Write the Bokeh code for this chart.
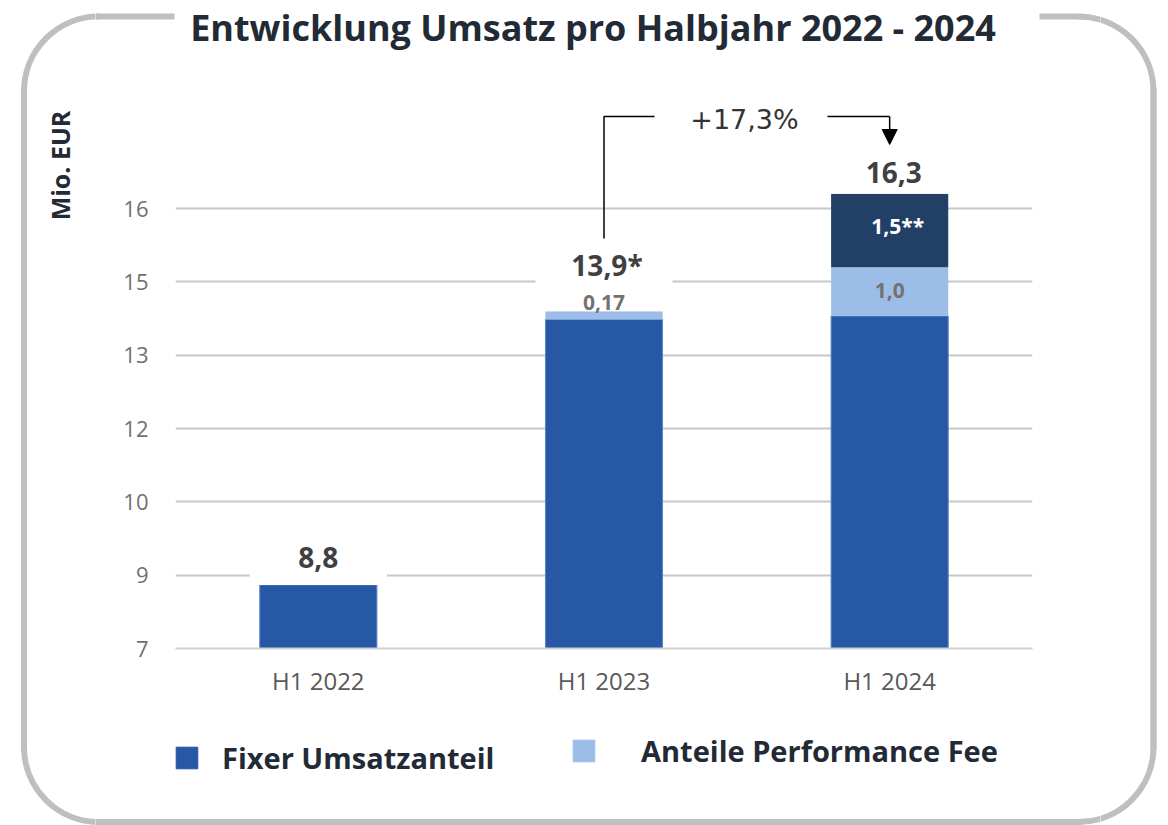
import math
from bokeh.plotting import figure
from bokeh.layouts import column, row
from bokeh.models import (ColumnDataSource, FactorRange, Range1d, FixedTicker,
                          Arrow, NormalHead, Legend, LegendItem)
from bokeh.core.properties import value
from bokeh.embed import file_html
from bokeh.resources import INLINE

# ---------------- data ----------------
categories = ["H1 2022", "H1 2023", "H1 2024"]
fixed_share = [8.3, 13.73, 13.8]
perf_fee = [0.0, 0.17, 1.0]
extra_fee = [0.0, 0.0, 1.5]
total_labels = ["8,8", "13,9*", "16,3"]
perf_labels = ["", "0,17", "1,0"]
extra_labels = ["", "", "1,5**"]
growth_label = "+17,3%"
y_ticks = [7, 8.5, 10, 11.5, 13, 14.5, 16]
y_tick_labels = ["7", "9", "10", "12", "13", "15", "16"]
title_text = "Entwicklung Umsatz pro Halbjahr 2022 - 2024"
y_title = "Mio. EUR"
legend_labels = ["Fixer Umsatzanteil", "Anteile Performance Fee"]

# ---------------- page geometry (page pixels) ----------------
PW, PH = 1168, 825
TOP_H, BOT_Y = 100, 700          # top strip 0..100, bottom strip 700..825
MAIN_X0, MAIN_X1 = 95, 1100      # main figure horizontal extent
FL, FR, FT, FB = 175, 1032, 100, 648   # plot frame (page px)
Y0 = 7.0
PX_PER_UNIT = 440 / 9.0
Y1 = Y0 + (FB - FT) / PX_PER_UNIT
NCAT = len(categories)

def X(px):   # page px -> categorical synthetic coordinate
    return (px - FL) / (FR - FL) * NCAT

def Y(py):   # page px -> value coordinate
    return Y0 + (FB - py) / PX_PER_UNIT

C_FIX = "#2758A5"
C_PERF = "#9DBDE9"
C_EXTRA = "#223F66"
C_TEXT = "#222A35"
C_VAL = "#404040"
C_BORDER = "#BFBFBF"

# ---------------- main chart ----------------
p = figure(width=MAIN_X1 - MAIN_X0, height=BOT_Y - TOP_H,
           x_range=FactorRange(*categories, range_padding=0),
           y_range=Range1d(Y0, Y1), output_backend="svg", toolbar_location=None,
           min_border_left=FL - MAIN_X0, min_border_right=MAIN_X1 - FR,
           min_border_top=FT - TOP_H, min_border_bottom=BOT_Y - FB,
           frame_align=False)
p.outline_line_color = None
p.border_fill_color = "white"

p.xgrid.grid_line_color = None
p.ygrid.ticker = FixedTicker(ticks=y_ticks)
p.ygrid.grid_line_color = "#C8C8C8"
p.ygrid.grid_line_width = 2
p.yaxis.ticker = FixedTicker(ticks=y_ticks)
p.yaxis.major_label_overrides = {t: l for t, l in zip(y_ticks, y_tick_labels)}
p.yaxis.axis_line_color = None
p.yaxis.major_tick_line_color = None
p.yaxis.minor_tick_line_color = None
p.yaxis.major_label_standoff = 21
p.yaxis.major_label_text_font = "Open Sans"
p.yaxis.major_label_text_font_size = "22px"
p.yaxis.major_label_text_color = "#707070"
p.xaxis.axis_line_color = "#D0D0D0"
p.xaxis.axis_line_width = 2
p.xaxis.major_tick_line_color = None
p.xaxis.minor_tick_line_color = None
p.xaxis.major_label_standoff = 9
p.xaxis.major_label_text_font = "Open Sans"
p.xaxis.major_label_text_font_size = "24px"
p.xaxis.major_label_text_color = "#595959"

bottom1 = [Y0] * NCAT
top1 = fixed_share
top2 = [a + b for a, b in zip(fixed_share, perf_fee)]
top3 = [a + b for a, b in zip(top2, extra_fee)]
src = ColumnDataSource(dict(cat=categories, b1=bottom1, t1=top1, t2=top2, t3=top3,
                            mask_top=[t + 1.1 for t in top3]))
BW = 0.41
p.vbar(x="cat", bottom="b1", top="t1", width=BW, source=src,
       fill_color=C_FIX, line_color="#5B86C6", line_width=1)
p.vbar(x="cat", bottom="t1", top="t2", width=BW, source=src,
       fill_color=C_PERF, line_color=None)
p.vbar(x="cat", bottom="t2", top="t3", width=BW, source=src,
       fill_color=C_EXTRA, line_color=None)
# white boxes behind the total labels (interrupt the gridlines)
p.vbar(x="cat", bottom="t3", top="mask_top", width=0.48, source=src,
       fill_color="white", line_color=None)

tsrc = ColumnDataSource(dict(cat=categories, y=top3, txt=total_labels,
                             yo=[-27, -46, -21], xo=[0, 3, 4]))
p.text(x="cat", y="y", text="txt", source=tsrc, y_offset="yo", x_offset="xo",
       text_align="center", text_baseline="alphabetic", text_font=value("Open Sans"),
       text_font_style="bold", text_font_size="28px", text_color=C_VAL)
psrc = ColumnDataSource(dict(cat=categories, y=top2, txt=perf_labels, yo=[0, -9, 23]))
p.text(x="cat", y="y", text="txt", source=psrc, y_offset="yo",
       text_align="center", text_baseline="alphabetic", text_font=value("Open Sans"),
       text_font_style="bold", text_font_size="21px", text_color="#767171")
esrc = ColumnDataSource(dict(cat=categories, y=top3, txt=extra_labels, yo=[0, 0, 32]))
p.text(x="cat", y="y", text="txt", source=esrc, y_offset="yo", x_offset=8,
       text_align="center", text_baseline="alphabetic", text_font=value("Open Sans"),
       text_font_style="bold", text_font_size="21px", text_color="white")

# growth bracket between H1 2023 and H1 2024
p.line(x=[1.5, 1.5, X(654)], y=[Y(238), Y(116), Y(116)], line_color="black", line_width=1.5)
p.line(x=[X(827), 2.5], y=[Y(116), Y(116)], line_color="black", line_width=1.5)
p.add_layout(Arrow(end=NormalHead(size=15, fill_color="black", line_color="black"),
                   x_start=2.5, y_start=Y(116), x_end=2.5, y_end=Y(144),
                   line_color="black", line_width=1.5))
p.text(x=[X(744)], y=[Y(119)], text=[growth_label], text_align="center",
       text_baseline="alphabetic", text_font=value("DejaVu Sans"),
       text_font_size="27px", text_color="#333333")

# ---------------- frame strips (rounded border, title, legend) ----------------
BL, BR, BT, BB, RAD = 23.5, 1153, 16, 821.5, 75
GAP0, GAP1 = 171, 1042     # gap in the top border behind the title
SEGMENTS = [((BL + RAD, BT), (GAP0, BT)), ((GAP1, BT), (BR - RAD, BT)),
            ((BL + RAD, BB), (BR - RAD, BB)),
            ((BL, BT + RAD), (BL, BB - RAD)), ((BR, BT + RAD), (BR, BB - RAD))]


def strip(x0, x1, y0, y1):
    f = figure(width=x1 - x0, height=y1 - y0, x_range=Range1d(x0, x1),
               y_range=Range1d(-y1, -y0), output_backend="svg", toolbar_location=None,
               x_axis_location=None, y_axis_location=None, min_border=0,
               min_border_left=0, min_border_right=0, min_border_top=0, min_border_bottom=0,
               frame_align=False)
    f.outline_line_color = None
    f.grid.visible = False
    f.border_fill_color = "white"
    # the part of the rounded border that lies in this strip
    half = 3
    ls, rs, bs, ts = [], [], [], []
    for (ax, ay), (bx, by) in SEGMENTS:
        xa, xb = max(min(ax, bx) - half, x0), min(max(ax, bx) + half, x1)
        ya, yb = max(min(ay, by) - half, y0), min(max(ay, by) + half, y1)
        if xa < xb and ya < yb:
            ls.append(xa); rs.append(xb); ts.append(-ya); bs.append(-yb)
    if ls:
        f.quad(left=ls, right=rs, bottom=bs, top=ts, fill_color=C_BORDER, line_color=None)
    f.arc(x=[BL + RAD, BR - RAD, BL + RAD, BR - RAD],
          y=[-(BT + RAD), -(BT + RAD), -(BB - RAD), -(BB - RAD)],
          radius=RAD, start_angle=[90, 0, 180, 270], end_angle=[180, 90, 270, 360],
          start_angle_units="deg", end_angle_units="deg",
          line_color=C_BORDER, line_width=6)
    return f


# full-height side strips, middle column with top/bottom strips around the chart
left = strip(0, MAIN_X0, 0, PH)
left.segment(x0=[BL], y0=[-(BT + RAD)], x1=[BL], y1=[-(BB - RAD)],
             line_color=C_BORDER, line_width=6)
left.text(x=[59], y=[-165], text=[y_title], angle=math.pi / 2, text_align="center",
          text_baseline="middle", text_font=value("Open Sans"), text_font_style="bold",
          text_font_size="25px", text_color=C_TEXT)

right = strip(MAIN_X1, PW, 0, PH)
right.segment(x0=[BR], y0=[-(BT + RAD)], x1=[BR], y1=[-(BB - RAD)],
              line_color=C_BORDER, line_width=6)

top = strip(MAIN_X0, MAIN_X1, 0, TOP_H)
top.text(x=[592.5], y=[-27], text=[title_text], text_align="center",
         text_baseline="alphabetic", text_font=value("Open Sans"), text_font_style="bold",
         text_font_size="36px", text_color=C_TEXT)

bottom = strip(MAIN_X0, MAIN_X1, BOT_Y, PH)
# off-screen stand-ins that give the legend its swatches
lr_fix = bottom.vbar(x=[-5000], bottom=[-5000], top=[-4990], width=1,
                     fill_color=C_FIX, line_color=C_FIX)
lr_perf = bottom.vbar(x=[-5000], bottom=[-5000], top=[-4990], width=1,
                      fill_color=C_PERF, line_color=C_PERF)
for (lab, rend, loc, stand) in [(legend_labels[0], lr_fix, (173 - MAIN_X0, PH - 777), 22),
                                (legend_labels[1], lr_perf, (570 - MAIN_X0, PH - 770), 44)]:
    lg = Legend(items=[LegendItem(label=lab, renderers=[rend])], location=loc,
                orientation="horizontal", glyph_width=27, glyph_height=27,
                label_height=27, label_standoff=stand, padding=0, margin=0,
                border_line_color=None, background_fill_alpha=0,
                label_text_font="Open Sans", label_text_font_style="bold",
                label_text_font_size="29px", label_text_color=C_TEXT)
    bottom.add_layout(lg)

layout = row(left, column(top, p, bottom, spacing=0), right, spacing=0)
open("out.html", "w").write(file_html(layout, INLINE))
